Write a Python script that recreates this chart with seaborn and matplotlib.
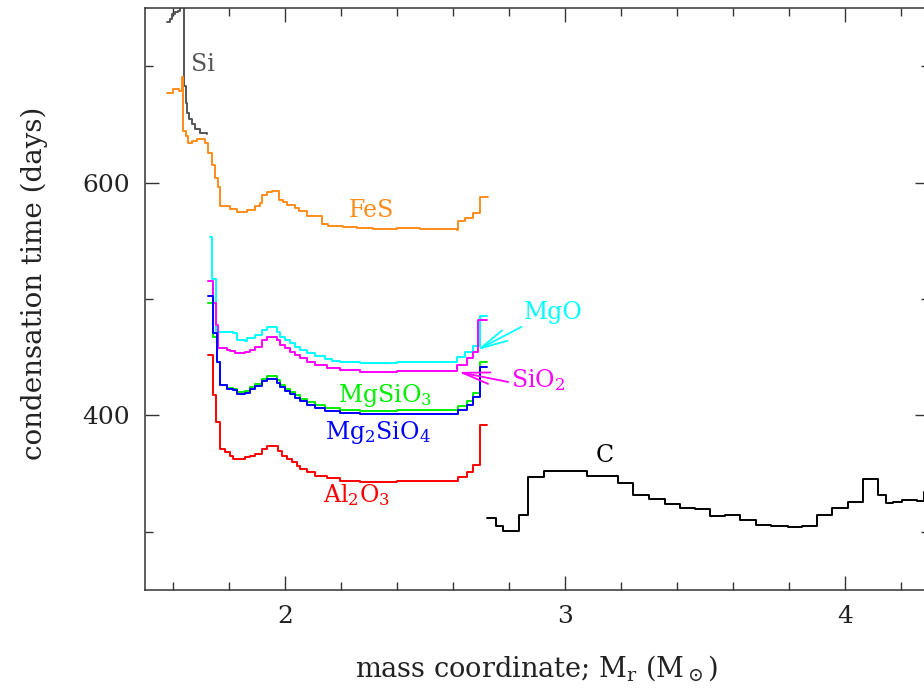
import matplotlib
matplotlib.use("Agg")
import matplotlib.pyplot as plt
import seaborn as sns
import pandas as pd
from matplotlib.ticker import MultipleLocator

# ---------------- data (step functions: breakpoints in M_r, value after each breakpoint) -------------
si_x = [1.5775, 1.589, 1.595, 1.607, 1.619, 1.625, 1.639, 1.646, 1.651, 1.658, 1.667, 1.679, 1.696, 1.720]
si_y = [737.7, 740.5, 744.8, 746.3, 747.7, 775.0, 683.0, 668.7, 660.1, 654.3, 650.0, 645.7, 642.8, 641.4]

fes_x = [1.5775, 1.600, 1.620, 1.633, 1.637, 1.645, 1.655, 1.667, 1.685, 1.702, 1.714, 1.726, 1.738,
         1.750, 1.762, 1.768, 1.804, 1.8275, 1.857, 1.863, 1.893, 1.911, 1.917, 1.935, 1.9525, 1.980,
         1.994, 2.006, 2.036, 2.051, 2.0775, 2.131, 2.155, 2.208, 2.256, 2.315, 2.399, 2.482, 2.613,
         2.619, 2.643, 2.6725, 2.696, 2.726]
fes_y = [677.3, 680.2, 679.0, 691.1, 644.2, 640.0, 634.2, 635.6, 637.1, 637.7, 634.2, 625.6, 615.5,
         604.3, 596.6, 579.6, 577.6, 574.7, 574.4, 576.1, 579.6, 582.5, 589.7, 592.0, 593.1, 585.3,
         583.4, 580.4, 578.2, 575.3, 571.0, 564.7, 562.3, 561.5, 560.6, 560.1, 561.0, 560.3, 559.5,
         566.6, 569.6, 573.9, 587.7, 587.7]

mgo_x = [1.732, 1.741, 1.755, 1.815, 1.827, 1.857, 1.863, 1.893, 1.917, 1.935, 1.970, 1.982, 2.000,
         2.018, 2.036, 2.054, 2.0775, 2.107, 2.143, 2.167, 2.196, 2.268, 2.399, 2.613, 2.643, 2.6725,
         2.696, 2.720]
mgo_y = [553.2, 517.2, 471.8, 470.4, 464.7, 463.8, 466.1, 469.0, 473.3, 476.1, 471.8, 467.5, 464.7,
         461.8, 458.9, 456.0, 453.2, 450.9, 448.3, 446.6, 446.0, 445.1, 446.0, 450.3, 454.1, 459.7,
         485.6, 485.6]

sio2_x = [1.726, 1.742, 1.754, 1.762, 1.792, 1.804, 1.821, 1.857, 1.875, 1.893, 1.917, 1.935, 1.970,
          1.982, 2.000, 2.018, 2.036, 2.054, 2.0775, 2.107, 2.149, 2.196, 2.268, 2.399, 2.614, 2.649,
          2.6725, 2.690, 2.720]
sio2_y = [515.5, 496.3, 477.6, 457.5, 456.5, 455.2, 453.2, 454.6, 456.0, 458.9, 464.7, 467.5, 464.7,
          460.3, 457.5, 454.6, 451.7, 448.9, 445.9, 443.1, 440.8, 438.8, 437.3, 438.2, 443.7, 448.9,
          454.6, 481.9, 481.9]

mgsio3_x = [1.726, 1.742, 1.756, 1.768, 1.792, 1.815, 1.827, 1.857, 1.875, 1.893, 1.917, 1.935, 1.970,
            1.982, 2.000, 2.018, 2.036, 2.054, 2.0775, 2.107, 2.143, 2.196, 2.268, 2.399, 2.619, 2.649,
            2.6725, 2.696, 2.720]
mgsio3_y = [496.3, 467.5, 445.9, 425.9, 423.7, 422.4, 419.8, 421.1, 424.1, 427.2, 431.5, 434.1, 430.2,
            425.9, 423.0, 420.1, 417.2, 414.4, 411.5, 408.6, 406.5, 404.7, 403.9, 404.7, 408.2, 412.5,
            419.4, 445.9, 445.9]

mg2sio4_x = [1.726, 1.742, 1.756, 1.768, 1.792, 1.815, 1.827, 1.857, 1.875, 1.893, 1.917, 1.935, 1.970,
             1.982, 2.000, 2.018, 2.036, 2.054, 2.0775, 2.107, 2.143, 2.196, 2.268, 2.399, 2.619, 2.649,
             2.6725, 2.696, 2.720]
mg2sio4_y = [502.2, 470.4, 445.9, 425.9, 423.0, 421.6, 418.7, 419.4, 422.4, 425.0, 429.3, 431.5, 428.0,
             424.1, 421.1, 418.1, 415.1, 412.1, 409.1, 406.0, 403.9, 402.2, 401.5, 401.5, 404.3, 408.6,
             415.8, 441.6, 441.6]

al2o3_x = [1.726, 1.742, 1.754, 1.768, 1.786, 1.804, 1.815, 1.857, 1.875, 1.893, 1.917, 1.935, 1.976,
           1.988, 2.006, 2.024, 2.042, 2.054, 2.0775, 2.107, 2.149, 2.196, 2.268, 2.399, 2.619, 2.649,
           2.6725, 2.696, 2.720]
al2o3_y = [452.2, 417.2, 394.2, 371.3, 368.4, 365.5, 362.7, 364.1, 365.5, 367.0, 371.3, 373.3, 369.8,
           365.5, 362.7, 359.7, 356.9, 354.0, 351.1, 348.3, 346.0, 344.0, 342.5, 343.5, 346.8, 351.1,
           357.5, 392.0, 392.0]

c_x = [2.7225, 2.7525, 2.7796, 2.8368, 2.8668, 2.925, 3.0296, 3.0796, 3.1346, 3.190, 3.244, 3.301,
       3.357, 3.411, 3.464, 3.518, 3.571, 3.625, 3.682, 3.736, 3.7975, 3.845, 3.899, 3.9525, 4.0096,
       4.063, 4.119, 4.146, 4.1725, 4.2025, 4.232, 4.256, 4.282, 4.30]
c_y = [311.5, 304.6, 300.9, 314.4, 347.4, 352.0, 352.6, 348.3, 347.7, 342.0, 331.6, 328.2, 323.5,
       320.1, 319.2, 313.5, 314.4, 310.3, 306.0, 305.4, 304.3, 304.9, 314.7, 320.4, 325.6, 345.4,
       331.6, 324.7, 325.6, 327.6, 327.0, 326.1, 334.0, 334.0]

series = [
    ("Si", si_x, si_y, "#555555"),
    ("FeS", fes_x, fes_y, "#ff8c1a"),
    ("MgO", mgo_x, mgo_y, "#00ffff"),
    ("SiO2", sio2_x, sio2_y, "#ff00ff"),
    ("MgSiO3", mgsio3_x, mgsio3_y, "#00ee00"),
    ("Mg2SiO4", mg2sio4_x, mg2sio4_y, "#0000ff"),
    ("Al2O3", al2o3_x, al2o3_y, "#ff0000"),
    ("C", c_x, c_y, "#000000"),
]

# ---------------- figure -------------
sns.set_theme(style="white")
plt.rcParams["font.family"] = ["DejaVu Serif"]
plt.rcParams["mathtext.fontset"] = "dejavuserif"

fig = plt.figure(figsize=(9.24, 6.88), dpi=100)
ax = fig.add_axes([145 / 924, 98 / 688, (929 - 145) / 924, 582 / 688])

for name, xs, ys, col in series:
    df = pd.DataFrame({"x": xs, "y": ys})
    sns.lineplot(data=df, x="x", y="y", ax=ax, color=col, lw=1.4,
                 drawstyle="steps-post", estimator=None, sort=False)

ax.set_xlim(1.5, 4.3)
ax.set_ylim(250, 750)

ax.xaxis.set_major_locator(MultipleLocator(1))
ax.xaxis.set_minor_locator(MultipleLocator(0.2))
ax.yaxis.set_major_locator(MultipleLocator(200))
ax.yaxis.set_minor_locator(MultipleLocator(100))
ax.tick_params(which="both", direction="in", top=True, right=True, bottom=True, left=True,
               color="#333333", width=1.0, labelsize=18, labelcolor="#222222")
ax.tick_params(which="major", length=10, pad=11)
ax.tick_params(which="minor", length=6)
for s in ax.spines.values():
    s.set_color("#333333")
    s.set_linewidth(1.1)

ax.set_xlabel(r"mass coordinate; M$_\mathregular{r}$ (M$_\odot$)", fontsize=19.5, color="#222222", labelpad=18)
ax.set_ylabel("condensation time (days)", fontsize=20, color="#222222")
ax.yaxis.set_label_coords(-0.124, 0.527)

# ---------------- labels -------------
fs = 17
ax.text(1.707, 701.7, "Si", color="#555555", fontsize=fs, ha="center", va="center")
ax.text(2.307, 575.9, "FeS", color="#ff8c1a", fontsize=fs, ha="center", va="center")
ax.text(2.957, 488.0, "MgO", color="#00ffff", fontsize=fs, ha="center", va="center")
ax.text(2.904, 430.0, r"SiO$_2$", color="#ff00ff", fontsize=fs, ha="center", va="center")
ax.text(2.357, 417.5, r"MgSiO$_3$", color="#00ee00", fontsize=fs, ha="center", va="center")
ax.text(2.332, 385.0, r"Mg$_2$SiO$_4$", color="#0000ff", fontsize=fs, ha="center", va="center")
ax.text(2.254, 331.5, r"Al$_2$O$_3$", color="#ff0000", fontsize=fs, ha="center", va="center")
ax.text(3.143, 365.5, "C", color="#000000", fontsize=fs, ha="center", va="center")

arrow_style = "->,head_length=1.4,head_width=0.3"
ax.annotate("", xy=(2.685, 456.0), xytext=(2.845, 476.1),
            arrowprops=dict(arrowstyle=arrow_style, color="#00ffff", lw=1.3,
                            shrinkA=0, shrinkB=0, mutation_scale=14))
ax.annotate("", xy=(2.619, 437.3), xytext=(2.7975, 428.7),
            arrowprops=dict(arrowstyle=arrow_style, color="#ff00ff", lw=1.3,
                            shrinkA=0, shrinkB=0, mutation_scale=14))

fig.savefig("out.png", dpi=100)
